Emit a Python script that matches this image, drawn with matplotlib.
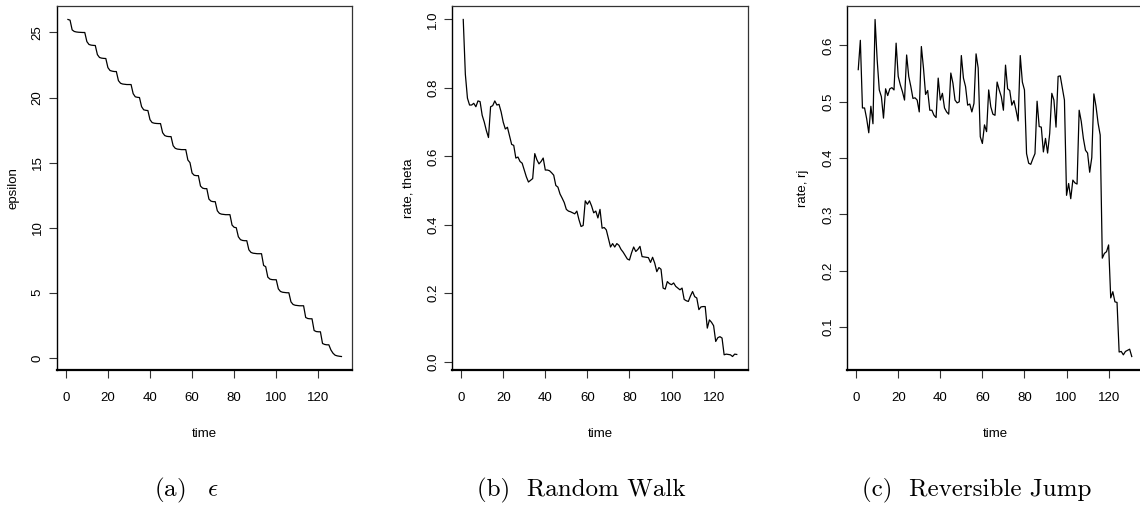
import numpy as np
import matplotlib
matplotlib.use("Agg")
import matplotlib.pyplot as plt

plt.rcParams['font.family'] = ['Liberation Sans', 'DejaVu Sans']
plt.rcParams['mathtext.fontset'] = 'cm'

# time index
time = list(range(1, 132))

# (a) epsilon schedule
epsilon = [
    26.0, 25.95, 25.2, 25.08, 25.04, 25.02, 25.01, 25.0, 25.0,
    24.3, 24.08, 24.03, 24.01, 24.0,
    23.3, 23.08, 23.03, 23.01, 23.0,
    22.3, 22.08, 22.03, 22.0, 22.0,
    21.3, 21.1, 21.04, 21.02, 21.0, 21.0, 21.0,
    20.3, 20.06, 20.02, 20.0,
    19.3, 19.06, 19.02, 19.0,
    18.3, 18.08, 18.03, 18.01, 18.0, 18.0,
    17.3, 17.08, 17.02, 17.0, 17.0,
    16.3, 16.1, 16.04, 16.02, 16.0, 16.0, 16.0,
    15.2, 15.0,
    14.2, 14.03, 14.0, 14.0,
    13.2, 13.04, 13.0, 13.0,
    12.2, 12.04, 12.0, 12.0,
    11.3, 11.1, 11.04, 11.02, 11.0, 11.0, 11.0,
    10.2, 10.03, 10.0,
    9.3, 9.08, 9.02, 9.0, 9.0,
    8.3, 8.1, 8.04, 8.02, 8.0, 8.0, 8.0,
    7.1, 7.0,
    6.2, 6.05, 6.01, 6.0, 6.0,
    5.3, 5.1, 5.04, 5.02, 5.0, 5.0,
    4.3, 4.1, 4.04, 4.02, 4.0, 4.0, 4.0,
    3.1, 3.02, 3.0, 3.0,
    2.1, 2.02, 2.0, 2.0,
    1.1, 1.03, 1.0, 1.0,
    0.6, 0.35, 0.2, 0.15, 0.12, 0.1,
]

# (b) random walk acceptance rate
rate_theta = [
    1.00, 0.84, 0.77, 0.75, 0.75, 0.755, 0.745, 0.762, 0.76, 0.72,
    0.70, 0.675, 0.655, 0.745, 0.748, 0.762, 0.75, 0.752, 0.73, 0.70,
    0.68, 0.685, 0.66, 0.635, 0.632, 0.595, 0.598, 0.585, 0.58, 0.56,
    0.54, 0.525, 0.53, 0.535, 0.608, 0.59, 0.578, 0.585, 0.595, 0.56,
    0.56, 0.558, 0.552, 0.545, 0.515, 0.51, 0.49, 0.478, 0.465, 0.445,
    0.44, 0.438, 0.435, 0.432, 0.44, 0.415, 0.395, 0.398, 0.47, 0.46,
    0.47, 0.455, 0.435, 0.44, 0.42, 0.445, 0.39, 0.392, 0.385, 0.36,
    0.335, 0.345, 0.335, 0.345, 0.34, 0.328, 0.32, 0.31, 0.30, 0.297,
    0.318, 0.335, 0.322, 0.328, 0.337, 0.307, 0.306, 0.305, 0.304, 0.29,
    0.305, 0.288, 0.263, 0.275, 0.27, 0.215, 0.212, 0.234, 0.228, 0.225,
    0.23, 0.22, 0.215, 0.21, 0.215, 0.182, 0.178, 0.176, 0.192, 0.205,
    0.19, 0.186, 0.152, 0.16, 0.161, 0.161, 0.098, 0.122, 0.115, 0.105,
    0.059, 0.07, 0.073, 0.069, 0.02, 0.022, 0.021, 0.02, 0.015, 0.022,
    0.021,
]

# (c) reversible jump acceptance rate
rate_rj = [
    0.557, 0.609, 0.489, 0.489, 0.47, 0.445, 0.492, 0.461, 0.646, 0.574,
    0.521, 0.509, 0.471, 0.523, 0.511, 0.523, 0.525, 0.521, 0.604, 0.545,
    0.530, 0.518, 0.503, 0.583, 0.545, 0.527, 0.506, 0.507, 0.503, 0.482,
    0.598, 0.560, 0.513, 0.520, 0.485, 0.485, 0.476, 0.472, 0.542, 0.503,
    0.515, 0.489, 0.482, 0.478, 0.551, 0.533, 0.503, 0.498, 0.500, 0.582,
    0.542, 0.527, 0.494, 0.496, 0.482, 0.497, 0.585, 0.560, 0.438, 0.426,
    0.459, 0.447, 0.521, 0.491, 0.478, 0.476, 0.535, 0.521, 0.509, 0.485,
    0.565, 0.523, 0.520, 0.494, 0.502, 0.485, 0.466, 0.582, 0.535, 0.521,
    0.408, 0.391, 0.389, 0.399, 0.408, 0.501, 0.456, 0.455, 0.411, 0.435,
    0.409, 0.444, 0.515, 0.503, 0.455, 0.545, 0.546, 0.525, 0.503, 0.334,
    0.355, 0.328, 0.361, 0.356, 0.354, 0.485, 0.465, 0.435, 0.414, 0.409,
    0.375, 0.401, 0.514, 0.492, 0.462, 0.441, 0.2225, 0.231, 0.234, 0.246,
    0.152, 0.163, 0.145, 0.144, 0.056, 0.057, 0.051, 0.057, 0.059, 0.061,
    0.048,
]

panels = [
    (epsilon, "epsilon", [0, 5, 10, 15, 20, 25], ["0", "5", "10", "15", "20", "25"]),
    (rate_theta, "rate, theta", [0.0, 0.2, 0.4, 0.6, 0.8, 1.0], ["0.0", "0.2", "0.4", "0.6", "0.8", "1.0"]),
    (rate_rj, "rate, rj", [0.1, 0.2, 0.3, 0.4, 0.5, 0.6], ["0.1", "0.2", "0.3", "0.4", "0.5", "0.6"]),
]
captions = [r"$\mathrm{(a)}\quad\epsilon$", "(b)  Random Walk", "(c)  Reversible Jump"]
caption_x = [186.7, 581.7, 976.7]
lefts = [57, 452.3, 847.3]

W, H = 1140, 505
fig = plt.figure(figsize=(W / 100, H / 100), dpi=100)

xticks = [0, 20, 40, 60, 80, 100, 120]

for i, (vals, ylab, yt, ytl) in enumerate(panels):
    ax = fig.add_axes([lefts[i] / W, 1 - 370 / H, 295.4 / W, 364 / H])
    ax.plot(time, vals, color="black", linewidth=0.9)

    # R style 4% padding
    t0, t1 = min(time), max(time)
    dx = (t1 - t0) * 0.04
    ax.set_xlim(t0 - dx, t1 + dx)
    v0, v1 = min(vals), max(vals)
    dy = (v1 - v0) * 0.04
    ax.set_ylim(v0 - dy, v1 + dy)

    ax.set_xticks(xticks)
    ax.set_xticklabels([str(x) for x in xticks], fontsize=9.5)
    ax.set_yticks(yt)
    ax.set_yticklabels(ytl, fontsize=9.5, rotation=90, va="center")

    ax.tick_params(axis="x", length=5.5, width=0.8, pad=10, colors="#333333")
    ax.tick_params(axis="y", length=5.5, width=0.8, pad=4, colors="#333333")
    for lab in ax.get_xticklabels() + ax.get_yticklabels():
        lab.set_color("black")

    for s in ["top", "right"]:
        ax.spines[s].set_linewidth(0.9)
        ax.spines[s].set_color("#333333")
    ax.spines["left"].set_linewidth(1.0)
    ax.spines["bottom"].set_linewidth(1.6)

    ax.set_xlabel("time", fontsize=9.5)
    ax.set_ylabel(ylab, fontsize=9.5)
    ax.xaxis.set_label_coords(0.5, -(434 - 370) / 364, transform=ax.transAxes)
    ax.xaxis.label.set_va("center")
    ax.yaxis.set_label_coords(-44 / 295.4, 0.5, transform=ax.transAxes)
    ax.yaxis.label.set_va("center")

    fig.text(caption_x[i] / W, 1 - 490 / H, captions[i], fontsize=18,
             family="cmr10", ha="center", va="center")

plt.savefig("out.png", dpi=100)
